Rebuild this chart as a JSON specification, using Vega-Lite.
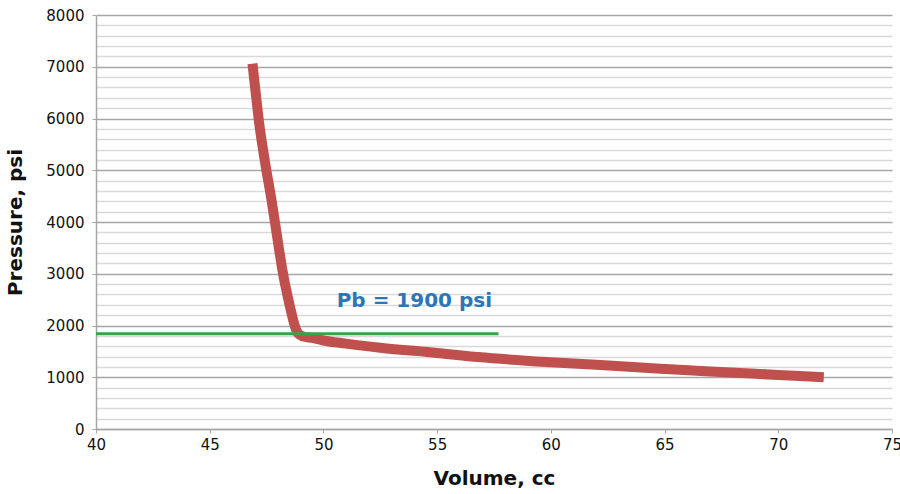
{
  "$schema": "https://vega.github.io/schema/vega-lite/v6.json",
  "width": 796,
  "height": 414,
  "autosize": "none",
  "padding": {"left": 96, "top": 15, "right": 8, "bottom": 65},
  "background": "white",
  "config": {"view": {"stroke": null}, "font": "DejaVu Sans"},
  "datasets": {
    "curve": [
      {"volume": 46.88, "pressure": 7060},
      {"volume": 47.02, "pressure": 6500},
      {"volume": 47.17, "pressure": 5925},
      {"volume": 47.42, "pressure": 5190},
      {"volume": 47.72, "pressure": 4414},
      {"volume": 47.96, "pressure": 3730},
      {"volume": 48.2, "pressure": 3059},
      {"volume": 48.52, "pressure": 2381},
      {"volume": 48.74, "pressure": 1994},
      {"volume": 48.9, "pressure": 1840},
      {"volume": 49.1, "pressure": 1790},
      {"volume": 49.5, "pressure": 1760},
      {"volume": 50, "pressure": 1710},
      {"volume": 51, "pressure": 1650},
      {"volume": 52.5, "pressure": 1570},
      {"volume": 55, "pressure": 1470},
      {"volume": 56.8, "pressure": 1390},
      {"volume": 60, "pressure": 1290},
      {"volume": 62, "pressure": 1240},
      {"volume": 65, "pressure": 1160},
      {"volume": 67, "pressure": 1110},
      {"volume": 70, "pressure": 1045},
      {"volume": 72, "pressure": 1000}
    ],
    "pb": [
      {"volume": 40, "pressure": 1840},
      {"volume": 57.7, "pressure": 1840}
    ],
    "label": [
      {"volume": 54.0, "pressure": 2480, "text": "Pb = 1900 psi"}
    ]
  },
  "layer": [
    {
      "data": {"name": "curve"},
      "mark": {"type": "line", "color": "#C0504D", "strokeWidth": 10, "strokeCap": "butt", "strokeJoin": "round", "interpolate": "monotone"},
      "encoding": {
        "x": {
          "field": "volume", "type": "quantitative",
          "scale": {"domain": [40, 75], "nice": false, "zero": false},
          "axis": {
            "values": [40, 45, 50, 55, 60, 65, 70, 75],
            "tickCount": 10,
            "grid": false,
            "title": "Volume, cc",
            "titleFontSize": 20, "titleFontWeight": "bold", "titleColor": "#111",
            "titlePadding": 16,
            "labelFontSize": 15, "labelColor": "#111", "labelPadding": 4,
            "labelFlush": false, "labelOverlap": false,
            "domainColor": "#A6A6A6", "domainWidth": 1.5,
            "tickColor": "#A6A6A6", "tickSize": 4
          }
        },
        "y": {
          "field": "pressure", "type": "quantitative",
          "scale": {"domain": [0, 8000], "nice": false},
          "axis": {
            "values": [0, 200, 400, 600, 800, 1000, 1200, 1400, 1600, 1800, 2000, 2200, 2400, 2600, 2800, 3000, 3200, 3400, 3600, 3800, 4000, 4200, 4400, 4600, 4800, 5000, 5200, 5400, 5600, 5800, 6000, 6200, 6400, 6600, 6800, 7000, 7200, 7400, 7600, 7800, 8000],
            "tickCount": 60,
            "labelExpr": "datum.value % 1000 === 0 ? datum.value : ''",
            "labelOverlap": false,
            "grid": true,
            "gridColor": {"condition": {"test": "datum.value % 1000 === 0", "value": "#A6A6A6"}, "value": "#D9D9D9"},
            "gridWidth": 1.3,
            "tickColor": {"condition": {"test": "datum.value % 1000 === 0", "value": "#A6A6A6"}, "value": "rgba(0,0,0,0)"},
            "tickSize": 4,
            "title": "Pressure, psi",
            "titleFontSize": 20, "titleFontWeight": "bold", "titleColor": "#111",
            "titlePadding": 20,
            "labelFontSize": 15, "labelColor": "#111", "labelPadding": 8,
            "labelFlush": false,
            "domainColor": "#A6A6A6", "domainWidth": 1.5
          }
        }
      }
    },
    {
      "data": {"name": "pb"},
      "mark": {"type": "line", "color": "#3AA346", "strokeWidth": 3},
      "encoding": {
        "x": {"field": "volume", "type": "quantitative"},
        "y": {"field": "pressure", "type": "quantitative"}
      }
    },
    {
      "data": {"name": "label"},
      "mark": {"type": "text", "color": "#2E75B6", "fontSize": 20, "fontWeight": "bold", "align": "center", "baseline": "middle"},
      "encoding": {
        "x": {"field": "volume", "type": "quantitative"},
        "y": {"field": "pressure", "type": "quantitative"},
        "text": {"field": "text"}
      }
    }
  ]
}
